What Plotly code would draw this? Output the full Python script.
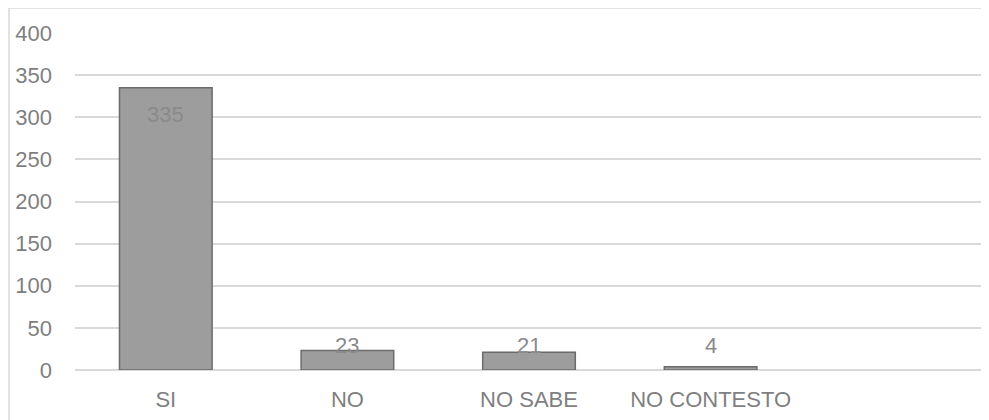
import plotly.graph_objects as go

categories = ["SI", "NO", "NO SABE", "NO CONTESTO"]
values = [335, 23, 21, 4]
y_ticks = [0, 50, 100, 150, 200, 250, 300, 350, 400]

FONT = "Liberation Sans, Arial, sans-serif"
TXT = "#7f7f7f"
GRID = "#d9d9d9"

fig = go.Figure()
fig.add_trace(go.Bar(
    x=categories, y=values,
    marker=dict(color="#9d9d9d", line=dict(color="#6b6b6b", width=1.5)),
    hoverinfo="skip",
))

# data labels: inside-end for tall bars, floored near the baseline for short ones
for c, v in zip(categories, values):
    fig.add_annotation(
        x=c, y=max(v - 32, 28.5), text=str(v), showarrow=False,
        yanchor="middle", xanchor="center",
        font=dict(family=FONT, size=22, color="#8a8a8a"),
    )

# page has an 8px body margin, so the figure is offset by (8, 8)
W, H = 981, 412
L, R, T, B = 67, 0, 25, 50
pw, ph = W - L - R, H - T - B
slots = 5                      # four categories plus one empty slot on the right
band = 908 / slots
x_max = -0.5 + pw / band

bx = (1 - L) / pw          # border at page x = 9
by = 1 + T / ph            # border at page y = 8
fig.add_shape(type="line", xref="paper", yref="paper",
              x0=bx, x1=bx, y0=-B / ph - 0.05, y1=by,
              line=dict(color=GRID, width=1.5))
fig.add_shape(type="line", xref="paper", yref="paper",
              x0=bx, x1=1.02, y0=by, y1=by,
              line=dict(color=GRID, width=1.5))

fig.update_layout(
    width=W, height=H,
    margin=dict(l=L, r=R, t=T, b=B),
    paper_bgcolor="white", plot_bgcolor="white",
    bargap=0.49, showlegend=False,
    font=dict(family=FONT, size=22, color=TXT),
    xaxis=dict(
        type="category", range=[-0.5, x_max], showgrid=False, zeroline=False,
        showline=False, ticks="", ticklabelstandoff=14,
        tickfont=dict(family=FONT, size=22, color=TXT),
    ),
    yaxis=dict(
        range=[0, 400], tickvals=y_ticks, showgrid=True, gridcolor=GRID, gridwidth=1.5,
        zeroline=True, zerolinecolor=GRID, zerolinewidth=1.5, showline=False,
        ticks="", ticklabelstandoff=22,
        tickfont=dict(family=FONT, size=22, color=TXT),
    ),
)

fig.write_html("out.html")
